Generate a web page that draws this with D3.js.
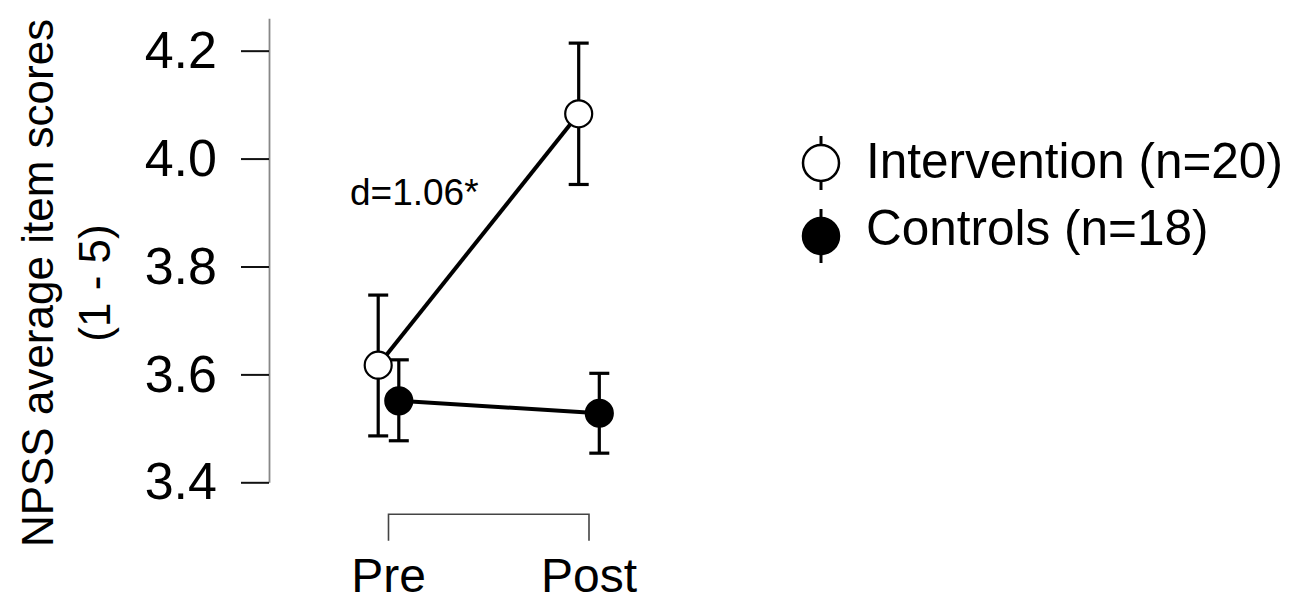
<!DOCTYPE html>
<html>
<head>
<meta charset="utf-8">
<script src="https://cdn.jsdelivr.net/npm/d3@7/dist/d3.min.js"></script>
<style>
  html, body { margin: 0; padding: 0; background: #fff; }
  svg { display: block; font-family: "Liberation Sans", Arial, sans-serif; }
</style>
</head>
<body>
<svg id="chart" width="1300" height="603"></svg>
<script>
// ---- data ----
const times = ["Pre", "Post"];
const groups = ["Intervention (n=20)", "Controls (n=18)"];
const interventionMean  = [3.617, 4.083];
const interventionLower = [3.486, 3.952];
const interventionUpper = [3.747, 4.214];
const controlsMean  = [3.551, 3.528];
const controlsLower = [3.477, 3.454];
const controlsUpper = [3.627, 3.602];
const yTicks = [3.4, 3.6, 3.8, 4.0, 4.2];
const yTitle = ["NPSS average item scores", "(1 - 5)"];
const annotation = "d=1.06*";

const series = [
  { name: groups[0], mean: interventionMean, lower: interventionLower, upper: interventionUpper, fill: "#fff", dodge: -10.3 },
  { name: groups[1], mean: controlsMean,     lower: controlsLower,     upper: controlsUpper,     fill: "#000", dodge: 10.3 }
];

const svg = d3.select("#chart");

const x = d3.scalePoint().domain(times).range([388.5, 589]);
const y = d3.scaleLinear().domain([3.4, 4.26]).range([482.3, 18.3]);

// y axis
const yAxis = d3.axisLeft(y).tickValues(yTicks).tickFormat(d3.format(".1f"))
  .tickSize(28).tickSizeOuter(0).tickPadding(24);
const gy = svg.append("g").attr("transform", "translate(269,0)").call(yAxis);
gy.select(".domain").attr("stroke", "#888").attr("stroke-width", 1.8);
gy.selectAll(".tick line").attr("stroke", "#111").attr("stroke-width", 2);
gy.selectAll(".tick text").attr("fill", "#000").attr("font-size", 52)
  .attr("font-family", "Liberation Sans, Arial, sans-serif");

// y title
const yt = svg.append("text")
  .attr("transform", "translate(0,283) rotate(-90)")
  .attr("text-anchor", "middle")
  .attr("font-size", 44).attr("fill", "#000");
yt.append("tspan").attr("x", 0).attr("y", 53).text(yTitle[0]);
yt.append("tspan").attr("x", 0).attr("y", 110).text(yTitle[1]);

// x bracket axis
const bTop = 514.3, bBot = 540.7;
svg.append("path")
  .attr("d", `M${x("Pre")},${bBot}V${bTop}H${x("Post")}V${bBot}`)
  .attr("fill", "none").attr("stroke", "#444").attr("stroke-width", 1.6);
svg.selectAll(".xlab").data(times).enter().append("text")
  .attr("class", "xlab")
  .attr("x", d => x(d)).attr("y", 592)
  .attr("text-anchor", "middle").attr("font-size", 48).attr("fill", "#000")
  .text(d => d);

// lines
const line = d3.line().x(d => d.x).y(d => d.y);
series.forEach(s => {
  const pts = times.map((t, i) => ({ x: x(t) + s.dodge, y: y(s.mean[i]) }));
  svg.append("path").attr("d", line(pts)).attr("fill", "none")
    .attr("stroke", "#000").attr("stroke-width", 4);
});

// error bars
const capW = 10;
series.forEach(s => {
  times.forEach((t, i) => {
    const cx = x(t) + s.dodge;
    const g = svg.append("g").attr("stroke", "#000").attr("stroke-width", 3.2);
    g.append("line").attr("x1", cx).attr("x2", cx).attr("y1", y(s.lower[i])).attr("y2", y(s.upper[i]));
    g.append("line").attr("x1", cx - capW).attr("x2", cx + capW).attr("y1", y(s.lower[i])).attr("y2", y(s.lower[i]));
    g.append("line").attr("x1", cx - capW).attr("x2", cx + capW).attr("y1", y(s.upper[i])).attr("y2", y(s.upper[i]));
  });
});

// points
series.forEach(s => {
  svg.selectAll(null).data(times).enter().append("circle")
    .attr("cx", (t) => x(t) + s.dodge)
    .attr("cy", (t, i) => y(s.mean[i]))
    .attr("r", 13.5)
    .attr("fill", s.fill).attr("stroke", "#000").attr("stroke-width", 2.2);
});

// annotation
svg.append("text").attr("x", 350).attr("y", 205)
  .attr("font-size", 37).attr("fill", "#000").text(annotation);

// legend
const legY = [163, 236];
const legTextY = [178, 245];
series.forEach((s, i) => {
  const g = svg.append("g");
  g.append("line").attr("x1", 821).attr("x2", 821).attr("y1", legY[i] - 27).attr("y2", legY[i] + 27)
    .attr("stroke", "#000").attr("stroke-width", 3);
  g.append("circle").attr("cx", 821).attr("cy", legY[i]).attr("r", 18)
    .attr("fill", s.fill).attr("stroke", "#000").attr("stroke-width", 2.5);
  g.append("text").attr("x", 866).attr("y", legTextY[i])
    .attr("font-size", 49.5).attr("fill", "#000").text(s.name);
});
</script>
</body>
</html>
